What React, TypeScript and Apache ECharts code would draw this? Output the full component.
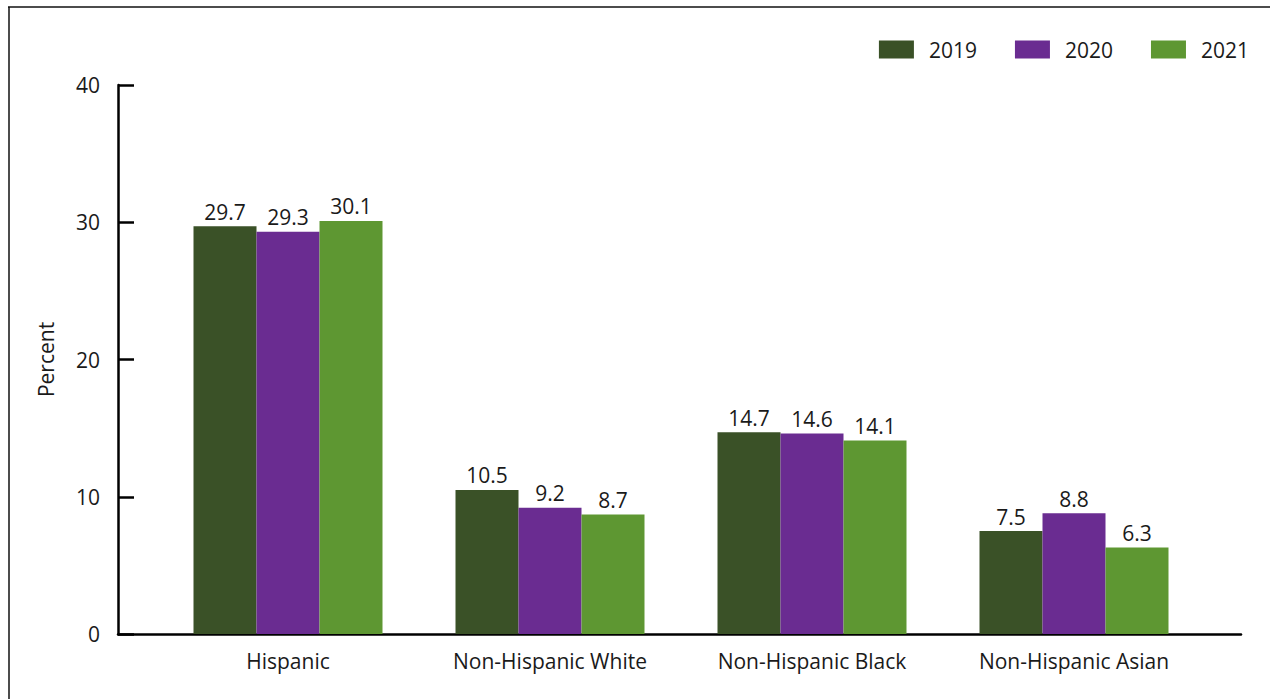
import React, { useEffect, useRef } from "react";
import * as echarts from "echarts";

const categories = ["Hispanic", "Non-Hispanic White", "Non-Hispanic Black", "Non-Hispanic Asian"];
const seriesNames = ["2019", "2020", "2021"];
const values2019 = [29.7, 10.5, 14.7, 7.5];
const values2020 = [29.3, 9.2, 14.6, 8.8];
const values2021 = [30.1, 8.7, 14.1, 6.3];
const yTicks = { min: 0, max: 40, interval: 10 };
const colors = ["#3a5127", "#6a2c91", "#5e9732"];

const FONT = "'Open Sans', sans-serif";

export default function App() {
  const ref = useRef<HTMLDivElement>(null);
  useEffect(() => {
    if (!ref.current) return;
    const chart = echarts.init(ref.current, undefined, { renderer: "svg" });
    const allValues = [values2019, values2020, values2021];
    chart.setOption({
      animation: false,
      backgroundColor: "#ffffff",
      textStyle: { fontFamily: FONT },
      legend: {
        data: seriesNames,
        right: 16,
        top: 34,
        itemWidth: 35,
        itemHeight: 18,
        itemGap: 38,
        icon: "rect",
        textStyle: { fontSize: 21, color: "#1a1a1a", fontFamily: FONT, padding: [0, 0, 0, 10] },
      },
      grid: [
        { left: 157, right: 65, top: 85, bottom: 65 },
        { left: 118, right: 29, top: 85, bottom: 65 },
      ],
      xAxis: [
        {
          type: "category",
          gridIndex: 0,
          data: categories,
          axisLine: { show: false },
          axisTick: { show: false },
          axisLabel: { fontSize: 21, color: "#1a1a1a", margin: 16, fontFamily: FONT },
        },
        {
          type: "value",
          gridIndex: 1,
          min: 0,
          max: 1,
          axisLine: { show: true, lineStyle: { color: "#000", width: 2.5 } },
          axisTick: { show: false },
          axisLabel: { show: false },
          splitLine: { show: false },
        },
      ],
      yAxis: [
        {
          type: "value",
          gridIndex: 0,
          min: yTicks.min,
          max: yTicks.max,
          interval: yTicks.interval,
          offset: 39,
          name: "Percent",
          nameLocation: "middle",
          nameGap: 62,
          nameTextStyle: { fontSize: 21, color: "#1a1a1a", fontFamily: FONT },
          axisLine: { show: true, lineStyle: { color: "#000", width: 2.5 } },
          axisTick: { show: true, inside: true, length: 16, lineStyle: { color: "#000", width: 2.5 } },
          axisLabel: { fontSize: 21, color: "#1a1a1a", margin: 18, fontFamily: FONT },
          splitLine: { show: false },
        },
        {
          type: "value",
          gridIndex: 1,
          show: false,
          min: 0,
          max: 1,
        },
      ],
      series: seriesNames.map((name, i) => ({
        name,
        type: "bar",
        xAxisIndex: 0,
        yAxisIndex: 0,
        data: allValues[i],
        barWidth: 63,
        barGap: "0%",
        itemStyle: { color: colors[i] },
        label: {
          show: true,
          position: "top",
          distance: 4,
          fontSize: 21,
          color: "#1a1a1a",
          fontFamily: FONT,
          formatter: (p: any) => p.value.toFixed(1),
        },
      })),
      graphic: [
        { type: "line", shape: { x1: 8, y1: 7, x2: 1270, y2: 7 }, style: { stroke: "#111", lineWidth: 1.5 } },
        { type: "line", shape: { x1: 9, y1: 7, x2: 9, y2: 699 }, style: { stroke: "#111", lineWidth: 1.5 } },
      ],
    });
    return () => chart.dispose();
  }, []);
  return (
    <div
      ref={ref}
      style={{ position: "absolute", left: 0, top: 0, width: 1270, height: 699 }}
    />
  );
}
